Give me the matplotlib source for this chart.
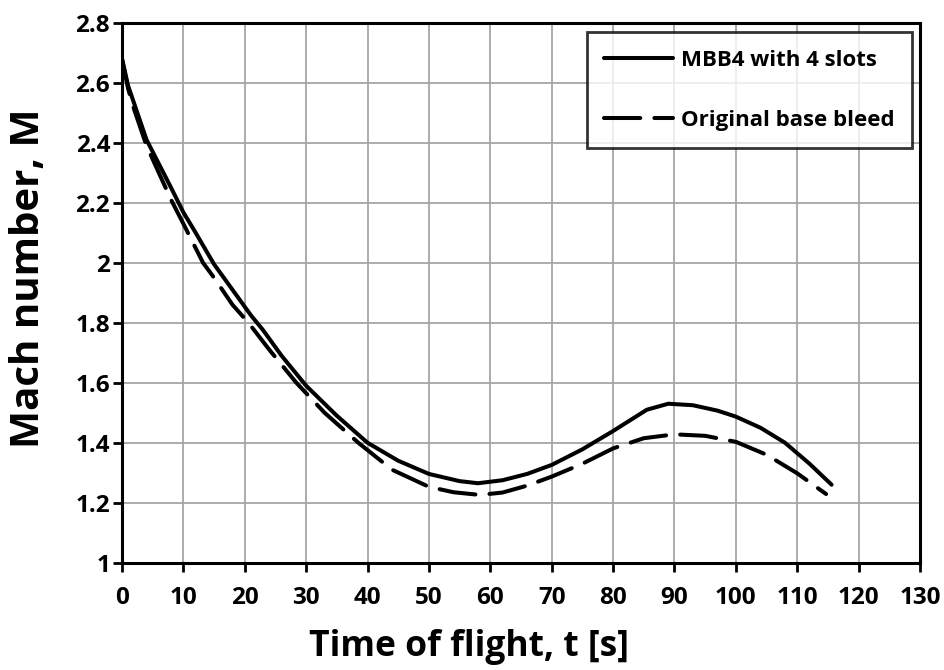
import matplotlib
matplotlib.use("Agg")
import matplotlib.pyplot as plt
from matplotlib.ticker import MultipleLocator, FuncFormatter

# Flight time [s] and Mach number for the two projectile configurations
t_mbb4 = [0, 1, 2, 4, 6, 8, 10, 12, 15, 18, 21, 23, 26, 30, 35, 40, 45, 50,
          55, 58, 62, 66, 70, 75, 80, 85.5, 89, 93, 97, 100, 104, 108, 112, 115.6]
m_mbb4 = [2.68, 2.59, 2.53, 2.41, 2.33, 2.25, 2.168, 2.10, 1.995, 1.91, 1.825,
          1.775, 1.69, 1.59, 1.49, 1.40, 1.34, 1.296, 1.272, 1.265, 1.275,
          1.296, 1.326, 1.378, 1.439, 1.51, 1.53, 1.525, 1.507, 1.487, 1.45,
          1.40, 1.33, 1.26]

t_orig = [0, 1, 2, 4, 6, 8, 10, 13.2, 15, 18, 20.6, 24, 28.4, 33, 38.5, 44,
          50, 54, 58.3, 62, 66, 70, 75, 80, 85, 90, 95, 100, 105, 110, 114.7]
m_orig = [2.68, 2.58, 2.51, 2.39, 2.30, 2.21, 2.13, 2.0, 1.95, 1.86, 1.80,
          1.71, 1.60, 1.50, 1.40, 1.31, 1.253, 1.235, 1.226, 1.234, 1.257,
          1.287, 1.33, 1.381, 1.415, 1.428, 1.423, 1.403, 1.36, 1.298, 1.229]

series_labels = ["MBB4 with 4 slots", "Original base bleed"]
x_label = "Time of flight, t [s]"
y_label = "Mach number, M"

plt.rcParams["font.family"] = ["Open Sans", "DejaVu Sans"]
plt.rcParams["font.weight"] = "bold"

fig = plt.figure(figsize=(9.44, 6.70), dpi=100)
ax = fig.add_axes([0.1292, 0.1601, 0.8454, 0.8060])

ax.plot(t_mbb4, m_mbb4, color="black", lw=2.9, solid_capstyle="round",
        solid_joinstyle="round", label=series_labels[0])
ax.plot(t_orig, m_orig, color="black", lw=2.9, linestyle=(0, (9, 3.5)),
        dash_capstyle="round", label=series_labels[1])

ax.set_xlim(0, 130)
ax.set_ylim(1, 2.8)
ax.xaxis.set_major_locator(MultipleLocator(10))
ax.yaxis.set_major_locator(MultipleLocator(0.2))
ax.yaxis.set_major_formatter(FuncFormatter(lambda v, p: f"{v:g}"))

ax.grid(True, color="#a6a6a6", lw=1.3)
ax.set_axisbelow(True)
for s in ax.spines.values():
    s.set_linewidth(2.2)
    s.set_color("black")

ax.tick_params(direction="out", length=6.5, width=2.0, labelsize=17.5, pad=2)
for lab in ax.get_xticklabels() + ax.get_yticklabels():
    lab.set_fontweight("bold")
ax.tick_params(axis="x", pad=10)

ax.set_xlabel(x_label, fontsize=25.5, fontweight="bold")
ax.set_ylabel(y_label, fontsize=29, fontweight="bold")
ax.xaxis.set_label_coords(0.435, -0.123)
ax.yaxis.set_label_coords(-0.093, 0.527)

leg = ax.legend(loc="upper right", bbox_to_anchor=(0.9905, 0.983),
                fontsize=16, frameon=True, fancybox=False, edgecolor="black",
                handlelength=3.1, handletextpad=0.35, labelspacing=1.75,
                borderpad=0.8, borderaxespad=0)
leg.get_frame().set_linewidth(2.0)
for txt in leg.get_texts():
    txt.set_fontweight("bold")

fig.savefig("out.png", dpi=100)
